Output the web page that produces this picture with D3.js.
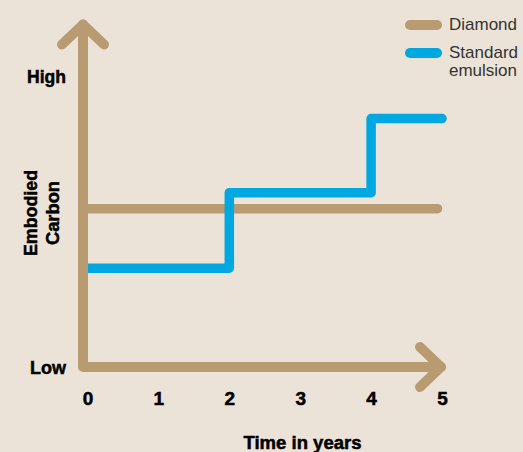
<!DOCTYPE html>
<style>
body { margin: 0; background: #ebe3d8; }
.axis text { font-family: "Liberation Sans", Arial, sans-serif; font-weight: bold; font-size: 19px; fill: #000; stroke: #000; stroke-width: 0.5px; }
.legend text { font-family: "Liberation Sans", Arial, sans-serif; font-size: 17px; fill: #333; }
</style>

<script src="https://d3js.org/d3.v7.min.js"></script>

<body>
<script>

// data (embodied carbon on a 0 = low .. 10 = high scale)
var years = [0, 1, 2, 3, 4, 5];
var levelTicks = [0, 10];
var levelLabels = ["Low", "High"];

var seriesNames = ["Diamond", "Standard emulsion"];
var diamondYears = [0, 5];
var diamondValues = [5.45, 5.45];
var emulsionYears = [0, 2, 4, 5];
var emulsionValues = [3.4, 6.0, 8.55, 8.55];

var width = 523,
    height = 452;

var tan = "#b99b71",
    blue = "#00a8e1";

var svg = d3.select("body").append("svg")
    .attr("width", width)
    .attr("height", height);

var x = d3.scaleLinear()
    .domain([0, 5])
    .range([87.5, 442]);

var y = d3.scaleLinear()
    .domain([0, 10])
    .range([367, 76.5]);

var line = d3.line()
    .x(function(d) { return x(d[0]); })
    .y(function(d) { return y(d[1]); })
    .curve(d3.curveStepAfter);

var axisX = x(0) - 4.5;

// series, drawn under the axes
svg.append("path")
    .datum(diamondYears.map(function(d, i) { return [d, diamondValues[i]]; }))
    .attr("d", line)
    .attr("transform", "translate(" + (axisX - x(0)) + ",0)")
    .attr("fill", "none")
    .attr("stroke", tan)
    .attr("stroke-width", 9.5)
    .attr("stroke-linejoin", "round")
    .attr("stroke-linecap", "round");

// step line starts at the axis
var emu = emulsionYears.map(function(d, i) { return [d, emulsionValues[i]]; });
svg.append("path")
    .datum(emu)
    .attr("d", function(d) { return line(d).replace(/^M[^,]+/, "M" + axisX); })
    .attr("fill", "none")
    .attr("stroke", blue)
    .attr("stroke-width", 9.5)
    .attr("stroke-linejoin", "round")
    .attr("stroke-linecap", "butt");

// round cap only at the right end
svg.append("circle")
    .attr("cx", x(5))
    .attr("cy", y(emulsionValues[3]))
    .attr("r", 4.75)
    .attr("fill", blue);

// axes with arrow heads
var yTop = y(10) - 52,
    xEnd = x(5) - 1,
    base = y(0),
    arm = 21;

svg.append("path")
    .attr("d", "M" + axisX + "," + yTop + "V" + base + "H" + xEnd)
    .attr("fill", "none")
    .attr("stroke", tan)
    .attr("stroke-width", 10)
    .attr("stroke-linejoin", "round")
    .attr("stroke-linecap", "round");

svg.append("path")
    .attr("d", "M" + (axisX - arm) + "," + (yTop + arm - 1) + "L" + axisX + "," + yTop + "L" + (axisX + arm) + "," + (yTop + arm - 1) +
               "M" + (xEnd - arm) + "," + (base - arm + 1) + "L" + xEnd + "," + base + "L" + (xEnd - arm) + "," + (base + arm - 1))
    .attr("fill", "none")
    .attr("stroke", tan)
    .attr("stroke-width", 10)
    .attr("stroke-linejoin", "round")
    .attr("stroke-linecap", "round");

svg.append("g")
    .attr("class", "axis")
    .attr("transform", "translate(0," + base + ")")
    .call(d3.axisBottom(x)
      .tickValues(years)
      .tickSize(0)
      .tickPadding(24.5)
      .tickFormat(d3.format("d")))
  .call(function(g) { g.select(".domain").remove(); })
  .selectAll("text")
    .attr("fill", "#000");

svg.append("g")
    .attr("class", "axis")
    .attr("transform", "translate(" + axisX + ",0)")
    .call(d3.axisLeft(y)
      .tickValues(levelTicks)
      .tickSize(0)
      .tickPadding(17)
      .tickFormat(function(d, i) { return levelLabels[i]; }))
  .call(function(g) { g.select(".domain").remove(); })
  .selectAll("text")
    .attr("fill", "#000")
    .attr("textLength", function(d, i) { return [36, 39][i]; })
    .attr("lengthAdjust", "spacingAndGlyphs");

// axis titles
var ytitle = svg.append("g")
    .attr("class", "axis")
    .attr("transform", "translate(0,213) rotate(-90)");

ytitle.append("text")
    .attr("x", 0).attr("y", 37)
    .attr("text-anchor", "middle")
    .attr("textLength", 86)
    .attr("lengthAdjust", "spacingAndGlyphs")
    .text("Embodied");

ytitle.append("text")
    .attr("x", 0).attr("y", 59)
    .attr("text-anchor", "middle")
    .attr("textLength", 64)
    .attr("lengthAdjust", "spacingAndGlyphs")
    .text("Carbon");

svg.append("g")
    .attr("class", "axis")
  .append("text")
    .attr("x", 302.5)
    .attr("y", 448.5)
    .attr("text-anchor", "middle")
    .attr("textLength", 118)
    .attr("lengthAdjust", "spacingAndGlyphs")
    .text("Time in years");

// legend
var legend = svg.append("g")
    .attr("class", "legend");

var items = legend.selectAll("g")
  .data(seriesNames)
  .enter().append("g")
    .attr("transform", function(d, i) { return "translate(0," + (25 + i * 28) + ")"; });

items.append("line")
    .attr("x1", 410)
    .attr("x2", 437)
    .attr("stroke", function(d, i) { return [tan, blue][i]; })
    .attr("stroke-width", 10)
    .attr("stroke-linecap", "round");

items.append("text")
    .attr("x", 449)
    .attr("y", 4.5)
    .selectAll("tspan")
  .data(function(d) { return d.split(" "); })
  .enter().append("tspan")
    .attr("x", 449)
    .attr("dy", function(d, i) { return i ? 18 : 0; })
    .text(function(d) { return d; });

</script>
